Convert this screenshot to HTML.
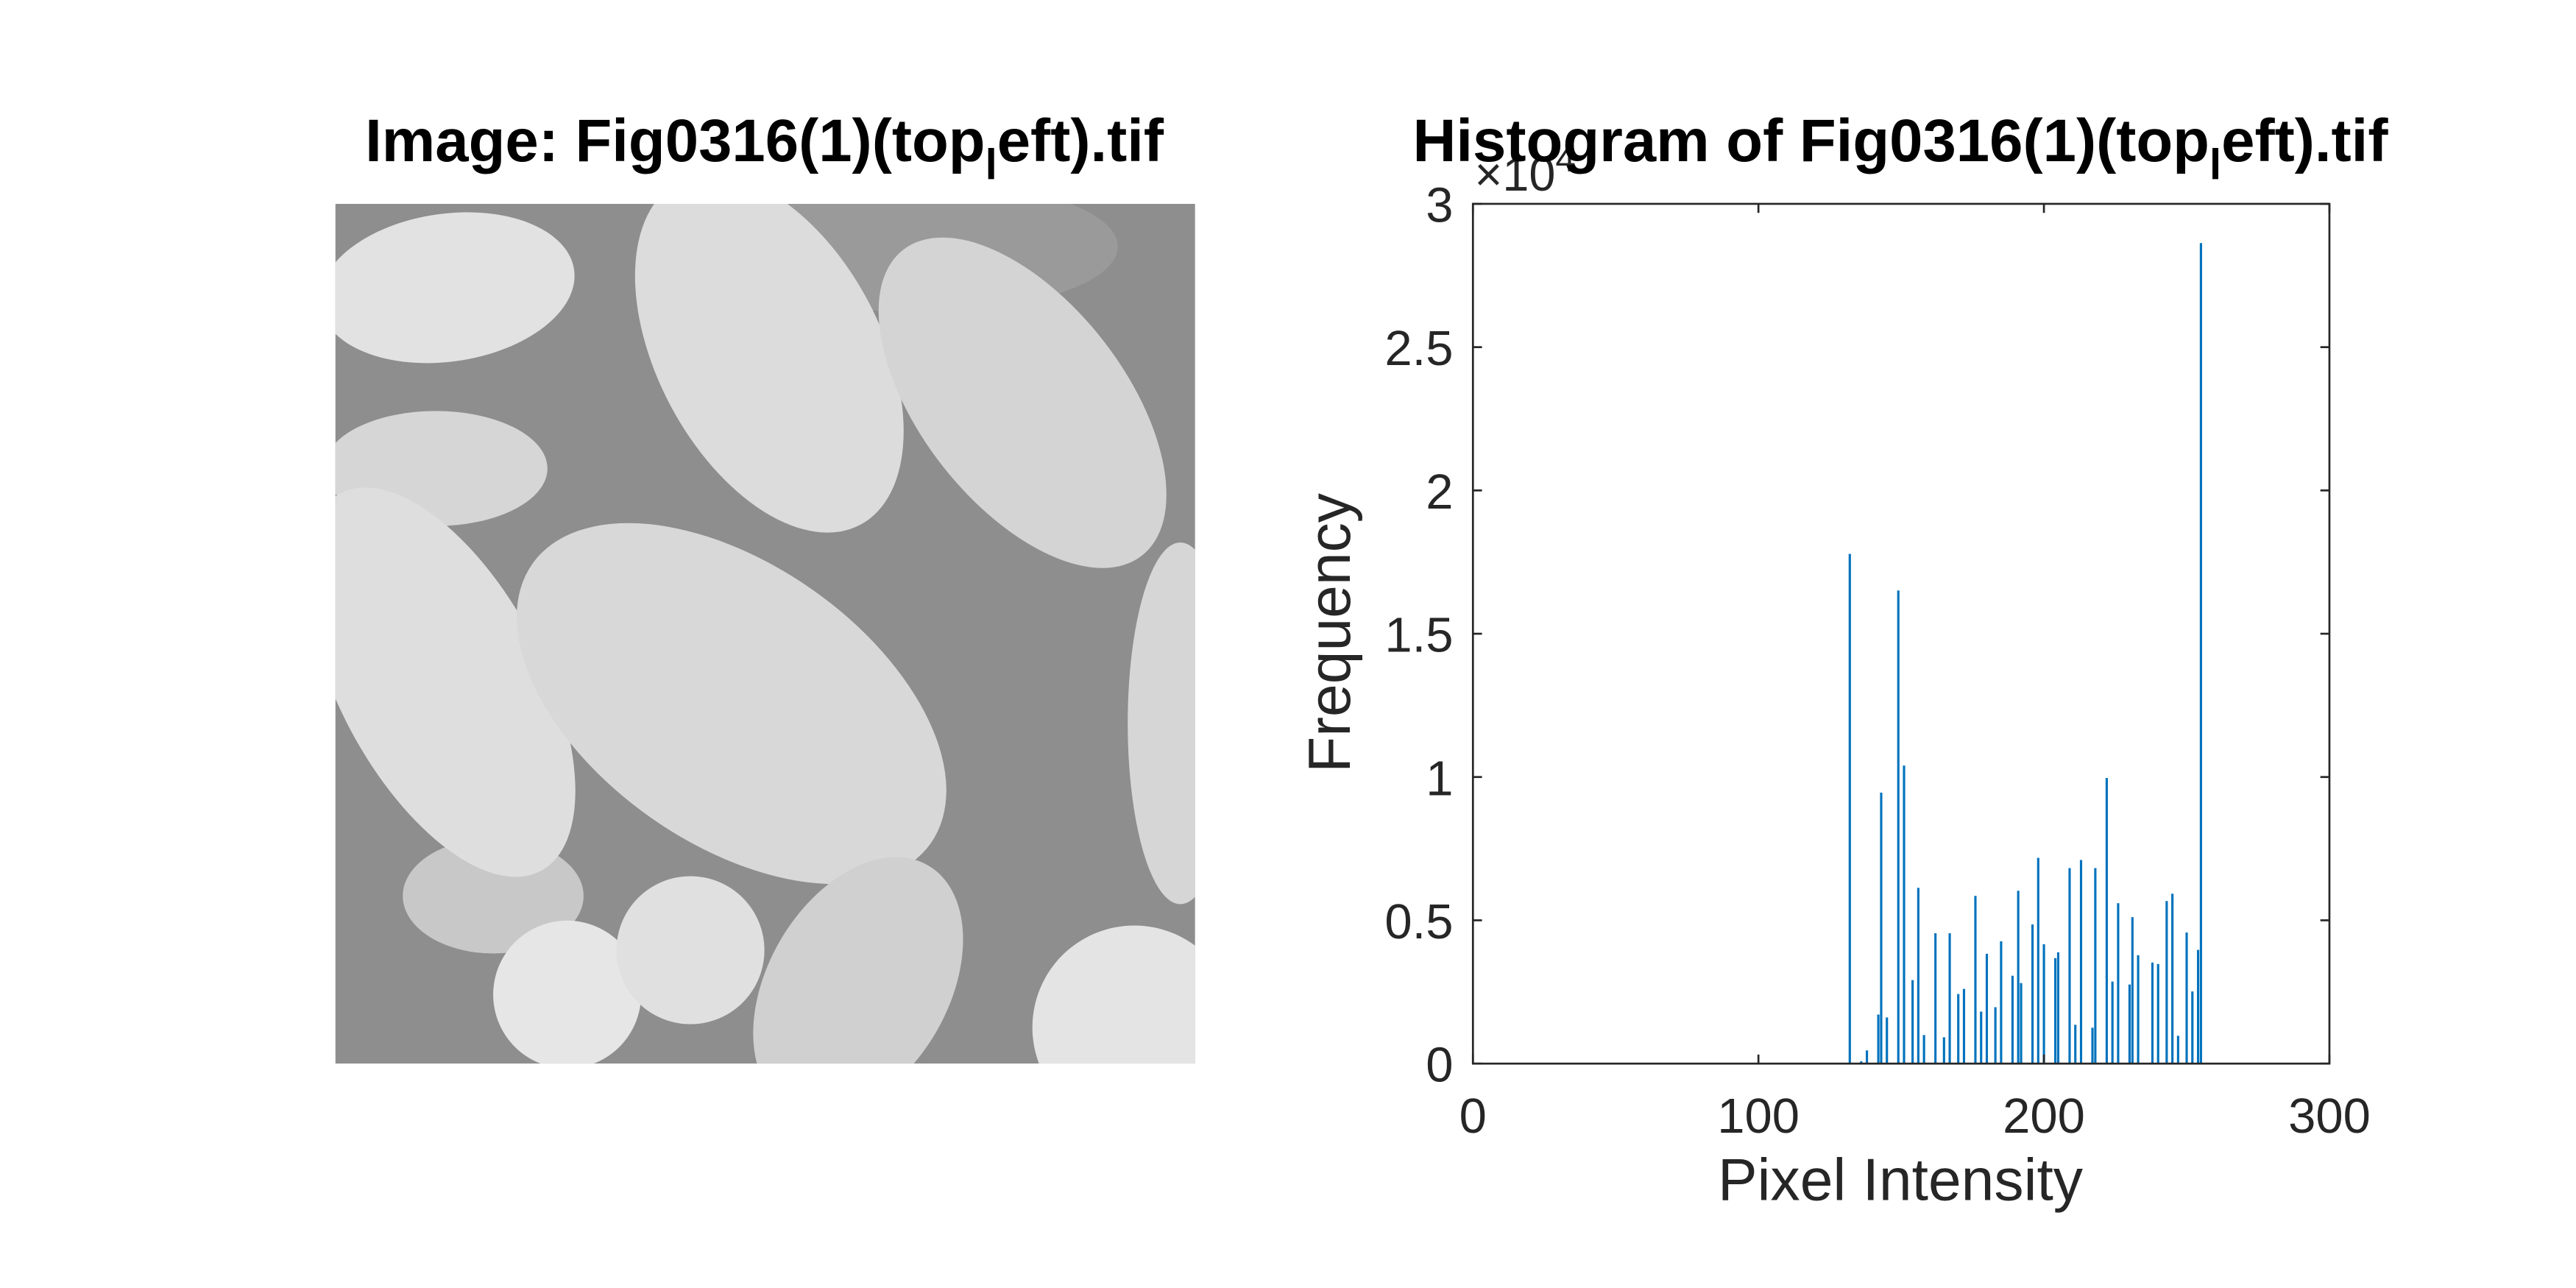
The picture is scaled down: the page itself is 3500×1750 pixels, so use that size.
<!DOCTYPE html>
<html><head><meta charset="utf-8"><style>
html,body{margin:0;padding:0;background:#fff;}
svg{display:block;font-family:"Liberation Sans",sans-serif;}
</style></head><body>
<svg id="fig" width="3500" height="1750" viewBox="0 0 1567 783.5" xmlns="http://www.w3.org/2000/svg">
<rect width="1567" height="783.5" fill="#fff"/>
<g>
 <text x="465" y="98" text-anchor="middle" font-size="36.5" font-weight="bold" fill="#000">Image: Fig0316(1)(top<tspan dy="11" font-size="26">l</tspan><tspan dy="-11">eft).tif</tspan></text>
 <svg x="204" y="124" width="523" height="523" viewBox="204 124 523 523">
  <rect x="204" y="124" width="523" height="523" fill="#8e8e8e"/>
  <ellipse cx="560" cy="150" rx="120" ry="40" fill="#9a9a9a"/>
  <ellipse cx="300" cy="545" rx="55" ry="35" fill="#c8c8c8"/>
  <ellipse cx="265" cy="285" rx="68" ry="35" fill="#d6d6d6"/>
  <ellipse cx="272" cy="175" rx="78" ry="45" fill="#e2e2e2" transform="rotate(-8 272 175)"/>
  <ellipse cx="468" cy="215" rx="68" ry="118" fill="#dcdcdc" transform="rotate(-28 468 215)"/>
  <ellipse cx="622" cy="245" rx="62" ry="118" fill="#d4d4d4" transform="rotate(-38 622 245)"/>
  <ellipse cx="268" cy="415" rx="62" ry="130" fill="#dedede" transform="rotate(-28 268 415)"/>
  <ellipse cx="445" cy="428" rx="148" ry="85" fill="#d8d8d8" transform="rotate(35 445 428)"/>
  <ellipse cx="718" cy="440" rx="32" ry="110" fill="#d6d6d6"/>
  <ellipse cx="522" cy="600" rx="55" ry="85" fill="#d0d0d0" transform="rotate(30 522 600)"/>
  <circle cx="345" cy="605" r="45" fill="#e6e6e6"/>
  <circle cx="420" cy="578" r="45" fill="#e0e0e0"/>
  <circle cx="690" cy="625" r="62" fill="#e4e4e4"/>
 </svg>
</g>
<g id="hist"></g>
</svg>
<script>
const intensities = [132,136,138,142,143,145,149,151,154,156,158,162,165,167,170,172,176,178,180,183,185,189,191,192,196,198,200,204,205,209,211,213,217,218,222,224,226,230,231,233,238,240,243,245,247,250,252,254,255];
const counts = [17785,80,460,1712,9455,1610,16508,10400,2913,6133,997,4549,920,4549,2428,2607,5852,1814,3833,1968,4268,3066,6030,2811,4856,7180,4165,3680,3884,6822,1354,7104,1252,6822,9966,2862,5597,2760,5110,3782,3526,3475,5673,5929,971,4574,2518,3969,28631];
const xTicks = [0,100,200,300];
const yTicks = [0,5000,10000,15000,20000,25000,30000];
const yTickLabels = ["0","0.5","1","1.5","2","2.5","3"];

const NS="http://www.w3.org/2000/svg";
const g=document.getElementById('hist');
const L=896,R=1417,T=124,B=647;
const xs=v=>L+(v-0)/(300-0)*(R-L);
const ys=v=>B-(v-0)/(30000-0)*(B-T);
function mk(tag,attrs,parent){const e=document.createElementNS(NS,tag);for(const k in attrs)e.setAttribute(k,attrs[k]);(parent||g).appendChild(e);return e;}

intensities.forEach((v,i)=>{
 const b=mk('rect',{x:xs(v)-0.7,y:ys(counts[i]),width:1.4,height:B-ys(counts[i]),fill:'#0072BD'});
 
 
});
const ax=mk('rect',{x:L,y:T,width:R-L,height:B-T,fill:'none',stroke:'#262626','stroke-width':1.2});


xTicks.forEach(v=>{
 const x=xs(v);
 mk('line',{x1:x,y1:B,x2:x,y2:B-5.5,stroke:'#262626','stroke-width':1.2});
 mk('line',{x1:x,y1:T,x2:x,y2:T+5.5,stroke:'#262626','stroke-width':1.2});
 const t=mk('text',{x:x,y:689,'text-anchor':'middle','font-size':30,fill:'#262626'});
 t.textContent=String(v);
 
 
});
yTicks.forEach((v,i)=>{
 const y=ys(v);
 mk('line',{x1:L,y1:y,x2:L+5.5,y2:y,stroke:'#262626','stroke-width':1.2});
 mk('line',{x1:R,y1:y,x2:R-5.5,y2:y,stroke:'#262626','stroke-width':1.2});
 const t=mk('text',{x:884,y:y+11,'text-anchor':'end','font-size':30,fill:'#262626'});
 t.textContent=yTickLabels[i];
 
 
});
const ex=mk('text',{x:897,y:116,'font-size':29,fill:'#262626'});
ex.innerHTML='×10<tspan dy="-12" font-size="22">4</tspan>';


const xl=mk('text',{x:1156,y:730,'text-anchor':'middle','font-size':36,fill:'#262626'});
xl.textContent='Pixel Intensity';


const yl=mk('text',{x:0,y:0,'text-anchor':'middle','font-size':36,fill:'#262626',transform:'translate(821,385) rotate(-90)'});
yl.textContent='Frequency';


const ti=mk('text',{x:1156,y:98,'text-anchor':'middle','font-size':36.5,'font-weight':'bold',fill:'#000'});
ti.innerHTML='Histogram of Fig0316(1)(top<tspan dy="11" font-size="26">l</tspan><tspan dy="-11">eft).tif</tspan>';


</script>
</body></html>
